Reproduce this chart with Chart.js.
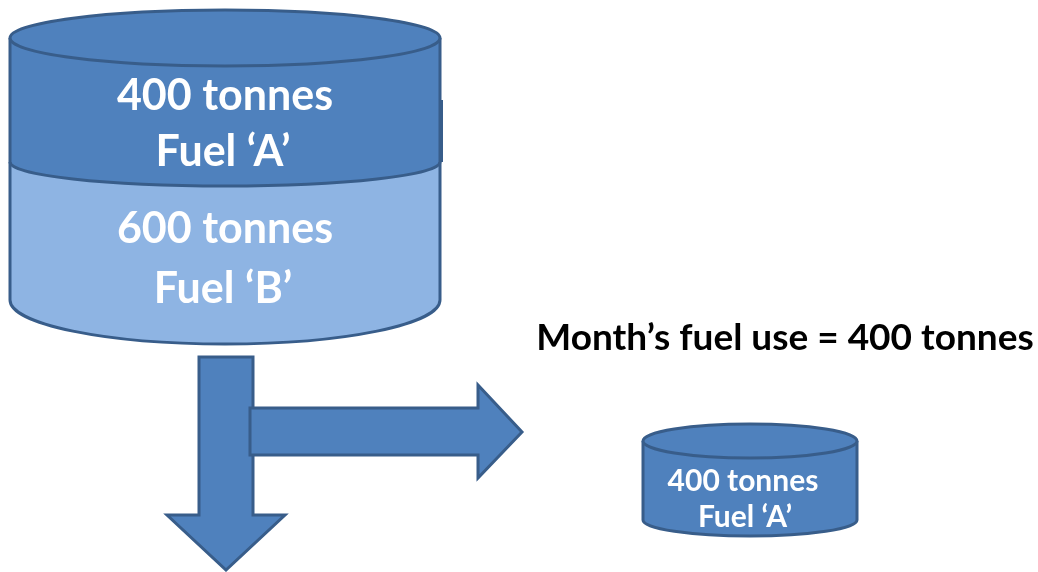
<!DOCTYPE html>
<html>
<head>
<meta charset="utf-8">
<script src="https://cdn.jsdelivr.net/npm/chart.js@4"></script>
<style>
  html, body { margin: 0; padding: 0; background: #fff; }
  #fuelChart { display: block; }
</style>
</head>
<body>
<canvas id="fuelChart" width="1038" height="572"></canvas>
<script>
// data
const tankFuels = ["Fuel \u2018A\u2019", "Fuel \u2018B\u2019"];
const tankTonnes = [400, 600];
const usedFuel = "Fuel \u2018A\u2019";
const usedTonnes = 400;
const unit = "tonnes";

// layout (in canvas units, the scales run 0..1038 / 0..572)
const bigTank = { cx: 225, half: 215, top: 38, topRy: 28, split: 162, splitRy: 24, bottom: 300, bottomRy: 44 };
const smallTank = { cx: 750, half: 107, top: 441, topRy: 17, bottom: 520, bottomRy: 16 };
const downArrow = [[199, 357], [253, 357], [253, 515], [285, 515], [226, 570], [167, 515], [199, 515]];
const sideArrow = [[250, 408], [478, 408], [478, 385], [522, 432], [478, 478], [478, 455], [250, 455]];

const dark = "#4f81bd";
const light = "#8eb4e3";
const edge = "#385d8a";

let ctx = document.getElementById("fuelChart").getContext("2d");

const diagramPlugin = {
  id: "fuelDiagram",
  afterDatasetsDraw: (chart) => {
    const c = chart.ctx;
    const sx = chart.scales.x;
    const sy = chart.scales.y;
    const px = (v) => sx.getPixelForValue(v);
    const py = (v) => sy.getPixelForValue(v);
    const rx = (cx, w) => px(cx + w) - px(cx);
    const ry = (cy, h) => py(cy + h) - py(cy);

    c.save();
    c.lineWidth = 3;
    c.strokeStyle = edge;
    c.lineJoin = "miter";

    // cylinder helper
    const drawCan = (t, bottomFill) => {
      const L = px(t.cx - t.half), R = px(t.cx + t.half);
      // bottom half ellipse
      c.beginPath();
      c.ellipse(px(t.cx), py(t.bottom), rx(t.cx, t.half), ry(t.bottom, t.bottomRy), 0, Math.PI, 0, true);
      c.closePath();
      c.fillStyle = bottomFill;
      c.fill();
      if (t.split) {
        c.beginPath();
        c.ellipse(px(t.cx), py(t.split), rx(t.cx, t.half), ry(t.split, t.splitRy), 0, Math.PI, 0, true);
        c.closePath();
        c.fillStyle = dark;
        c.fill();
        c.beginPath();
        c.ellipse(px(t.cx), py(t.split), rx(t.cx, t.half), ry(t.split, t.splitRy), 0, Math.PI, 0, true);
        c.stroke();
      }
      // outline
      c.beginPath();
      c.moveTo(L, py(t.top));
      c.lineTo(L, py(t.bottom));
      c.ellipse(px(t.cx), py(t.bottom), rx(t.cx, t.half), ry(t.bottom, t.bottomRy), 0, Math.PI, 0, true);
      c.lineTo(R, py(t.top));
      c.stroke();
      // top face
      c.beginPath();
      c.ellipse(px(t.cx), py(t.top), rx(t.cx, t.half), ry(t.top, t.topRy), 0, 0, Math.PI * 2);
      c.fillStyle = dark;
      c.fill();
      c.stroke();
    };

    drawCan(bigTank, light);
    // small step on right side of big tank
    c.beginPath();
    c.moveTo(px(bigTank.cx + bigTank.half) + 1.5, py(100));
    c.lineTo(px(bigTank.cx + bigTank.half) + 1.5, py(bigTank.split));
    c.stroke();
    drawCan(smallTank, dark);

    // arrows
    [downArrow, sideArrow].forEach((pts) => {
      c.beginPath();
      pts.forEach((p, i) => {
        if (i === 0) c.moveTo(px(p[0]), py(p[1]));
        else c.lineTo(px(p[0]), py(p[1]));
      });
      c.closePath();
      c.fillStyle = dark;
      c.fill();
      c.stroke();
    });

    // labels
    c.textAlign = "center";
    c.textBaseline = "middle";
    c.fillStyle = "#ffffff";
    c.font = "bold 43px Lato";
    c.fillText(tankTonnes[0] + " " + unit, px(bigTank.cx), py(96));
    c.fillText(tankFuels[0], px(bigTank.cx - 2), py(152));
    c.fillText(tankTonnes[1] + " " + unit, px(bigTank.cx), py(229));
    c.fillText(tankFuels[1], px(bigTank.cx - 2), py(289));

    c.font = "bold 30px Lato";
    c.fillText(usedTonnes + " " + unit, px(743), py(481));
    c.fillText(usedFuel, px(745), py(517));

    c.fillStyle = "#000000";
    c.font = "bold 37px Lato";
    c.fillText("Month\u2019s fuel use = " + usedTonnes + " " + unit, px(785), py(338));
    c.restore();
  },
};

let fuelChart = new Chart(ctx, {
  type: "bar",
  data: {
    datasets: [
      {
        label: tankFuels[0],
        data: [{ x: bigTank.cx, y: [bigTank.top, bigTank.split] }],
        backgroundColor: dark,
        borderWidth: 0,
        barThickness: bigTank.half * 2,
        grouped: false,
      },
      {
        label: tankFuels[1],
        data: [{ x: bigTank.cx, y: [bigTank.split, bigTank.bottom] }],
        backgroundColor: light,
        borderWidth: 0,
        barThickness: bigTank.half * 2,
        grouped: false,
      },
      {
        label: "Month's use",
        data: [{ x: smallTank.cx, y: [smallTank.top, smallTank.bottom] }],
        backgroundColor: dark,
        borderWidth: 0,
        barThickness: smallTank.half * 2,
        grouped: false,
      },
    ],
  },
  options: {
    responsive: false,
    animation: false,
    layout: { padding: 0 },
    scales: {
      x: { type: "linear", min: 0, max: 1038, offset: false, display: false },
      y: { type: "linear", min: 0, max: 572, reverse: true, display: false },
    },
    plugins: {
      legend: { display: false },
      tooltip: { enabled: false },
    },
  },
  plugins: [diagramPlugin],
});
</script>
</body>
</html>
